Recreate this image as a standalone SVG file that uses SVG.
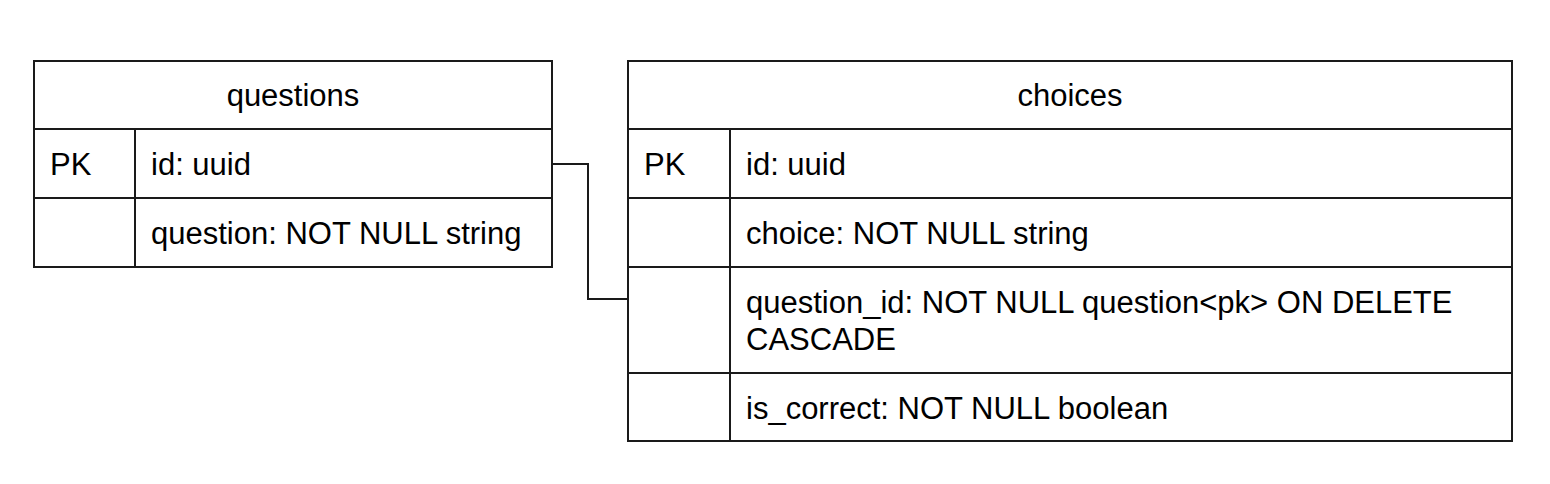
<svg xmlns="http://www.w3.org/2000/svg" width="1550" height="484" viewBox="0 0 1550 484">
<style>
.b{fill:#fff;stroke:#1a1a1a;stroke-width:2}
.l{stroke:#1a1a1a;stroke-width:2;fill:none}
.t{font-family:"Liberation Sans",Arial,sans-serif;font-size:31px;fill:#000}
.c{text-anchor:middle}
</style>
<rect width="1550" height="484" fill="#fff"/>
<g id="connectors">
<polyline class="l" points="552,164 588,164 588,299 628,299"/>
</g>
<g id="questions">
<rect class="b" x="34" y="61" width="518" height="206"/>
<line class="l" x1="34" y1="129" x2="552" y2="129"/>
<line class="l" x1="34" y1="198" x2="552" y2="198"/>
<line class="l" x1="135" y1="129" x2="135" y2="267"/>
<text class="t c" x="293" y="106">questions</text>
<text class="t" x="50" y="175">PK</text>
<text class="t" x="151" y="175">id: uuid</text>
<text class="t" x="151" y="244">question: NOT NULL string</text>
</g>
<g id="choices">
<rect class="b" x="628" y="61" width="884" height="380"/>
<line class="l" x1="628" y1="129" x2="1512" y2="129"/>
<line class="l" x1="628" y1="198" x2="1512" y2="198"/>
<line class="l" x1="628" y1="267" x2="1512" y2="267"/>
<line class="l" x1="628" y1="373" x2="1512" y2="373"/>
<line class="l" x1="730" y1="129" x2="730" y2="441"/>
<text class="t c" x="1070" y="106">choices</text>
<text class="t" x="644" y="175">PK</text>
<text class="t" x="746" y="175">id: uuid</text>
<text class="t" x="746" y="244">choice: NOT NULL string</text>
<text class="t" x="746" y="313">question_id: NOT NULL question&lt;pk&gt; ON DELETE</text>
<text class="t" x="746" y="350">CASCADE</text>
<text class="t" x="746" y="419">is_correct: NOT NULL boolean</text>
</g>
</svg>
